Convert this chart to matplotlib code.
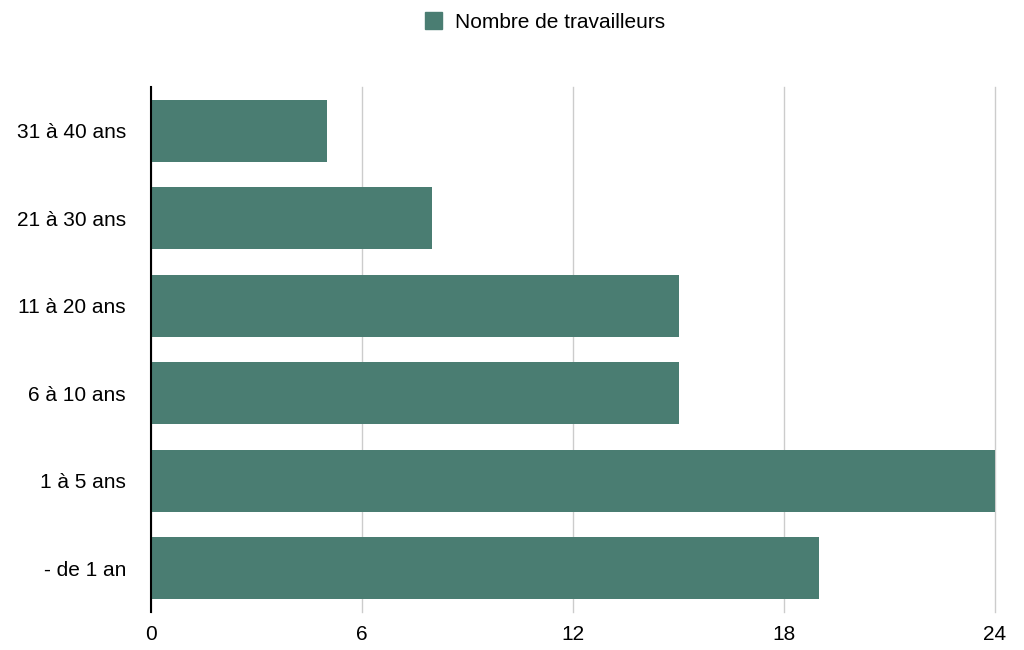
import matplotlib
matplotlib.use("Agg")
import matplotlib.pyplot as plt
from matplotlib.patches import Patch

categories = ["- de 1 an", "1 à 5 ans", "6 à 10 ans", "11 à 20 ans", "21 à 30 ans", "31 à 40 ans"]
values = [19, 24, 15, 15, 8, 5]
xticks = [0, 6, 12, 18, 24]
series_name = "Nombre de travailleurs"
color = "#4a7d72"

plt.rcParams['font.family'] = ['Liberation Sans', 'DejaVu Sans']

fig = plt.figure(figsize=(10.24, 6.5), dpi=100)
ax = fig.add_axes([151/1024, 38/650, 844/1024, 525/650])
y = list(range(len(categories)))
ax.barh(y, values, height=0.71, color=color, zorder=2)
ax.set_xlim(0, 24)
ax.set_ylim(-0.5, len(categories) - 0.5)
ax.set_yticks(y)
ax.set_yticklabels(categories, fontsize=15)
ax.set_xticks(xticks)
ax.set_xticklabels([str(v) for v in xticks], fontsize=15)
ax.tick_params(axis='y', length=0, pad=18)
ax.tick_params(axis='x', length=0, pad=9)
ax.grid(axis='x', color='#cccccc', linewidth=1, zorder=0)
for gl in ax.get_xgridlines():
    gl.set_clip_on(False)
for s in ['top', 'right', 'bottom']:
    ax.spines[s].set_visible(False)
ax.spines['left'].set_color('black')
ax.spines['left'].set_linewidth(1.5)
ax.spines['left'].set_zorder(3)

fig.legend(handles=[Patch(color=color, label=series_name)], loc='upper center',
           bbox_to_anchor=(0.532, 1.01), frameon=False, fontsize=15,
           handlelength=0.85, handleheight=0.85, handletextpad=0.6)

fig.savefig("out.png", dpi=100)
